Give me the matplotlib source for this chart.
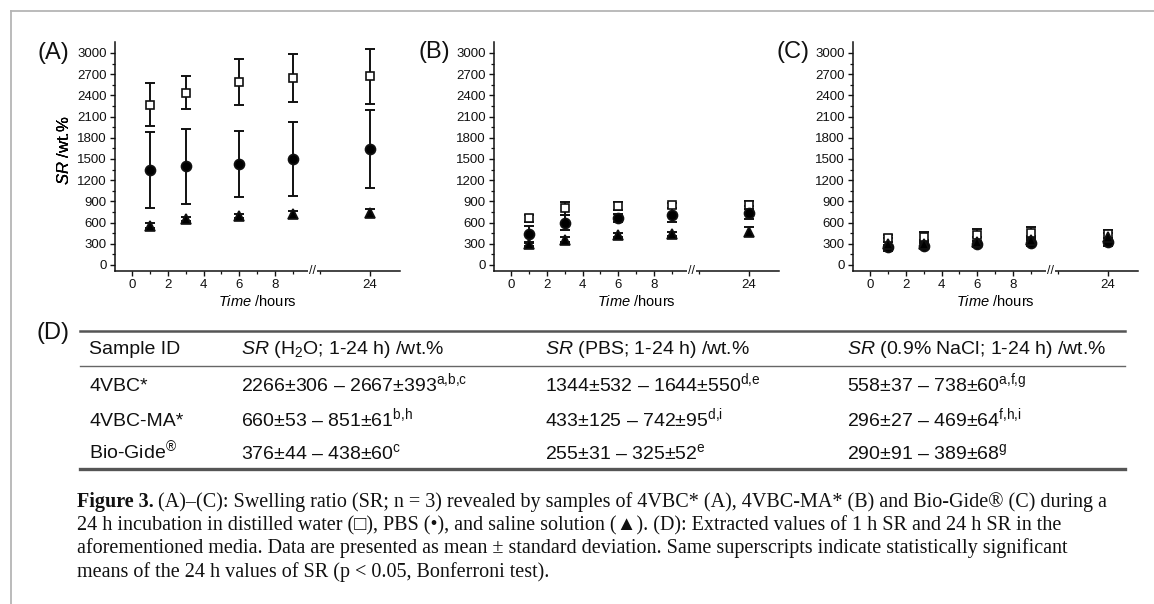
import numpy as np
import matplotlib
matplotlib.use("Agg")
import matplotlib.pyplot as plt
from matplotlib.lines import Line2D
from matplotlib.transforms import blended_transform_factory

# ---------------- data ----------------
times_h = [1, 3, 6, 9, 24]

# Panel A: 4VBC*
a_water_mean = [2266, 2435, 2590, 2647, 2667]
a_water_sd = [306, 235, 322, 334, 393]
a_pbs_mean = [1344, 1399, 1427, 1498, 1644]
a_pbs_sd = [532, 530, 470, 528, 550]
a_nacl_mean = [558, 650, 692, 716, 738]
a_nacl_sd = [37, 30, 30, 48, 60]

# Panel B: 4VBC-MA*
b_water_mean = [660, 800, 835, 845, 851]
b_water_sd = [53, 90, 60, 35, 61]
b_pbs_mean = [433, 599, 665, 705, 742]
b_pbs_sd = [125, 105, 55, 100, 95]
b_nacl_mean = [296, 360, 426, 435, 469]
b_nacl_sd = [27, 40, 25, 25, 64]

# Panel C: Bio-Gide
c_water_mean = [376, 400, 420, 455, 438]
c_water_sd = [44, 70, 85, 78, 60]
c_pbs_mean = [255, 270, 300, 310, 325]
c_pbs_sd = [31, 35, 40, 45, 52]
c_nacl_mean = [290, 300, 330, 350, 389]
c_nacl_sd = [91, 60, 70, 65, 68]

panel_letters = ["(A)", "(B)", "(C)"]
x_major = [0, 2, 4, 6, 8, 24]
x_minor = [1, 3, 5, 7, 9, 22]
y_major = list(range(0, 3001, 300))
y_minor = list(range(150, 3000, 300))

# Table (D)
sample_ids = ["4VBC*", "4VBC-MA*", "Bio-Gide\u00ae"]
water_1h = [2266, 660, 376]
water_1h_sd = [306, 53, 44]
water_24h = [2667, 851, 438]
water_24h_sd = [393, 61, 60]
water_sup = ["a,b,c", "b,h", "c"]
pbs_1h = [1344, 433, 255]
pbs_1h_sd = [532, 125, 31]
pbs_24h = [1644, 742, 325]
pbs_24h_sd = [550, 95, 52]
pbs_sup = ["d,e", "d,i", "e"]
nacl_1h = [558, 296, 290]
nacl_1h_sd = [37, 27, 91]
nacl_24h = [738, 469, 389]
nacl_24h_sd = [60, 64, 68]
nacl_sup = ["a,f,g", "f,h,i", "g"]
table_headers = ["Sample ID",
                 r"$\mathit{SR}$ (H$_2$O; 1-24 h) /wt.%",
                 r"$\mathit{SR}$ (PBS; 1-24 h) /wt.%",
                 r"$\mathit{SR}$ (0.9% NaCl; 1-24 h) /wt.%"]

caption_bold = "Figure 3."
caption_lines = [
    "(A)\u2013(C): Swelling ratio (SR; n = 3) revealed by samples of 4VBC* (A), 4VBC-MA* (B) and Bio-Gide\u00ae (C) during a",
    "24 h incubation in distilled water (\u25a1), PBS (\u2022), and saline solution (\u25b2). (D): Extracted values of 1 h SR and 24 h SR in the",
    "aforementioned media. Data are presented as mean \u00b1 standard deviation. Same superscripts indicate statistically significant",
    "means of the 24 h values of SR (p < 0.05, Bonferroni test).",
]

# ---------------- style ----------------
plt.rcParams["font.family"] = ["Liberation Sans", "DejaVu Sans"]
plt.rcParams["mathtext.fontset"] = "custom"
plt.rcParams["mathtext.rm"] = "Liberation Sans"
plt.rcParams["mathtext.it"] = "Liberation Sans:italic"
plt.rcParams["mathtext.bf"] = "Liberation Sans:bold"

W, H = 1154, 604
fig = plt.figure(figsize=(W / 100, H / 100), dpi=100)


def fx(px):
    return px / W


def fy(py):
    return 1 - py / H


# broken x axis as a piecewise-linear scale
BRK_LO, BRK_HI, POST, EPS = 10.1, 21.72, 1.4, 1e-3


def fwd(x):
    x = np.asarray(x, float)
    d1 = BRK_LO + (BRK_HI - BRK_LO) * EPS
    return np.where(x <= BRK_LO, x,
                    np.where(x < BRK_HI, BRK_LO + (x - BRK_LO) * EPS,
                             d1 + (x - BRK_HI) * POST))


def inv(d):
    d = np.asarray(d, float)
    d1 = BRK_LO + (BRK_HI - BRK_LO) * EPS
    return np.where(d <= BRK_LO, d,
                    np.where(d < d1, BRK_LO + (d - BRK_LO) / EPS,
                             BRK_HI + (d - d1) / POST))


panel_data = [
    (a_water_mean, a_water_sd, a_pbs_mean, a_pbs_sd, a_nacl_mean, a_nacl_sd),
    (b_water_mean, b_water_sd, b_pbs_mean, b_pbs_sd, b_nacl_mean, b_nacl_sd),
    (c_water_mean, c_water_sd, c_pbs_mean, c_pbs_sd, c_nacl_mean, c_nacl_sd),
]
ax_lefts = [115, 494, 853]
ax_w, ax_top, ax_bot = 285, 42, 271
letter_pos = [(53, 53), (434, 52), (793, 52)]

for i, (wm, ws, pm, ps, nm, ns) in enumerate(panel_data):
    L = ax_lefts[i]
    ax = fig.add_axes([fx(L), fy(ax_bot), ax_w / W, (ax_bot - ax_top) / H])
    ax.set_xscale("function", functions=(fwd, inv))
    for m, s, mk, fc, ms in [(wm, ws, "s", "white", 6.4),
                             (pm, ps, "o", "black", 7.2),
                             (nm, ns, "^", "black", 7.2)]:
        ax.errorbar(times_h, m, yerr=s, fmt="none", ecolor="#111111",
                    elinewidth=1.4, capsize=3.8, capthick=1.4, zorder=2)
        ax.plot(times_h, m, ls="none", marker=mk, ms=ms, mfc=fc, mec="#111111",
                mew=1.2, zorder=3)
    ax.set_xlim(-0.95, 25.2)
    ax.set_ylim(-85, 3155)
    ax.set_xticks(x_major)
    ax.set_xticks(x_minor, minor=True)
    ax.set_xticklabels([str(v) for v in x_major])
    ax.set_yticks(y_major)
    ax.set_yticks(y_minor, minor=True)
    for sp in ["top", "right"]:
        ax.spines[sp].set_visible(False)
    for sp in ["left", "bottom"]:
        ax.spines[sp].set_linewidth(1.1)
        ax.spines[sp].set_color("#111111")
    ax.tick_params(which="major", direction="out", length=3.8, width=1.0,
                   labelsize=9.5, pad=2.2, colors="#111111")
    ax.tick_params(which="minor", direction="out", length=2.0, width=0.9,
                   colors="#111111")
    ax.set_ylabel(r"$\mathit{SR}$ /wt.%", fontsize=12, va="center")
    ax.yaxis.set_label_coords((64 - L) / ax_w, (ax_bot - 150) / (ax_bot - ax_top))
    ax.set_xlabel(r"$\mathit{Time}$ /hours", fontsize=10.5, va="center")
    ax.xaxis.set_label_coords(0.5, (ax_bot - 302) / (ax_bot - ax_top))
    tr = blended_transform_factory(ax.transData, ax.transAxes)
    ax.text(0.5 * (BRK_LO + BRK_HI), 0, "//", transform=tr, ha="center",
            va="center", fontsize=9, color="#111111", clip_on=False, zorder=6,
            bbox=dict(fc="white", ec="none", pad=0.6))
    fig.text(fx(letter_pos[i][0]), fy(letter_pos[i][1]), panel_letters[i],
             fontsize=17, ha="center", va="center", color="#111111")

# ---------------- table (D) ----------------
fig.text(fx(53), fy(333), "(D)", fontsize=17, ha="center", va="center",
         color="#111111")
tl, tr_ = 80, 1125
fig.add_artist(Line2D([fx(tl), fx(tr_)], [fy(331), fy(331)], color="#555555",
                      lw=1.8, transform=fig.transFigure))
fig.add_artist(Line2D([fx(tl), fx(tr_)], [fy(366), fy(366)], color="#666666",
                      lw=1.0, transform=fig.transFigure))
fig.add_artist(Line2D([fx(tl), fx(tr_)], [fy(469), fy(469)], color="#555555",
                      lw=2.4, transform=fig.transFigure))

col_x = [89, 241, 545, 847]
header_base = 354
row_base = [391, 426, 459]
tfs = 14
for cx, h in zip(col_x, table_headers):
    fig.text(fx(cx), fy(header_base), h, fontsize=tfs, ha="left",
             va="baseline", color="#111111")


def cell(m1, s1, m2, s2, sup):
    sup_tex = sup.replace(",", "{,}")
    return f"{m1}\u00b1{s1} \u2013 {m2}\u00b1{s2}" + "$^{\\mathrm{" + sup_tex + "}}$"


for r in range(len(sample_ids)):
    sid = sample_ids[r].replace("\u00ae", "$^{\\mathrm{\u00ae}}$")
    vals = [sid,
            cell(water_1h[r], water_1h_sd[r], water_24h[r], water_24h_sd[r], water_sup[r]),
            cell(pbs_1h[r], pbs_1h_sd[r], pbs_24h[r], pbs_24h_sd[r], pbs_sup[r]),
            cell(nacl_1h[r], nacl_1h_sd[r], nacl_24h[r], nacl_24h_sd[r], nacl_sup[r])]
    for cx, v in zip(col_x, vals):
        fig.text(fx(cx), fy(row_base[r]), v, fontsize=tfs, ha="left",
                 va="baseline", color="#111111")

# ---------------- caption ----------------
cap_fam = ["Liberation Serif", "DejaVu Serif"]
cap_fs = 14.5
cap_base = [507, 530, 553, 577]
renderer = fig.canvas.get_renderer()
tb = fig.text(fx(77), fy(cap_base[0]), caption_bold, family=cap_fam,
              fontsize=cap_fs, weight="bold", ha="left", va="baseline",
              color="#111111")
bb = tb.get_window_extent(renderer)
fig.text((bb.x1 + 4) / W, fy(cap_base[0]), caption_lines[0], family=cap_fam,
         fontsize=cap_fs, ha="left", va="baseline", color="#111111")
for k in range(1, 4):
    fig.text(fx(77), fy(cap_base[k]), caption_lines[k], family=cap_fam,
             fontsize=cap_fs, ha="left", va="baseline", color="#111111")

# ---------------- frame ----------------
fig.add_artist(Line2D([fx(11), fx(11)], [0, fy(11)], color="#b5b5b5", lw=1.3,
                      transform=fig.transFigure))
fig.add_artist(Line2D([fx(11), 1], [fy(11), fy(11)], color="#b5b5b5", lw=1.3,
                      transform=fig.transFigure))

fig.savefig("out.png", dpi=100)
